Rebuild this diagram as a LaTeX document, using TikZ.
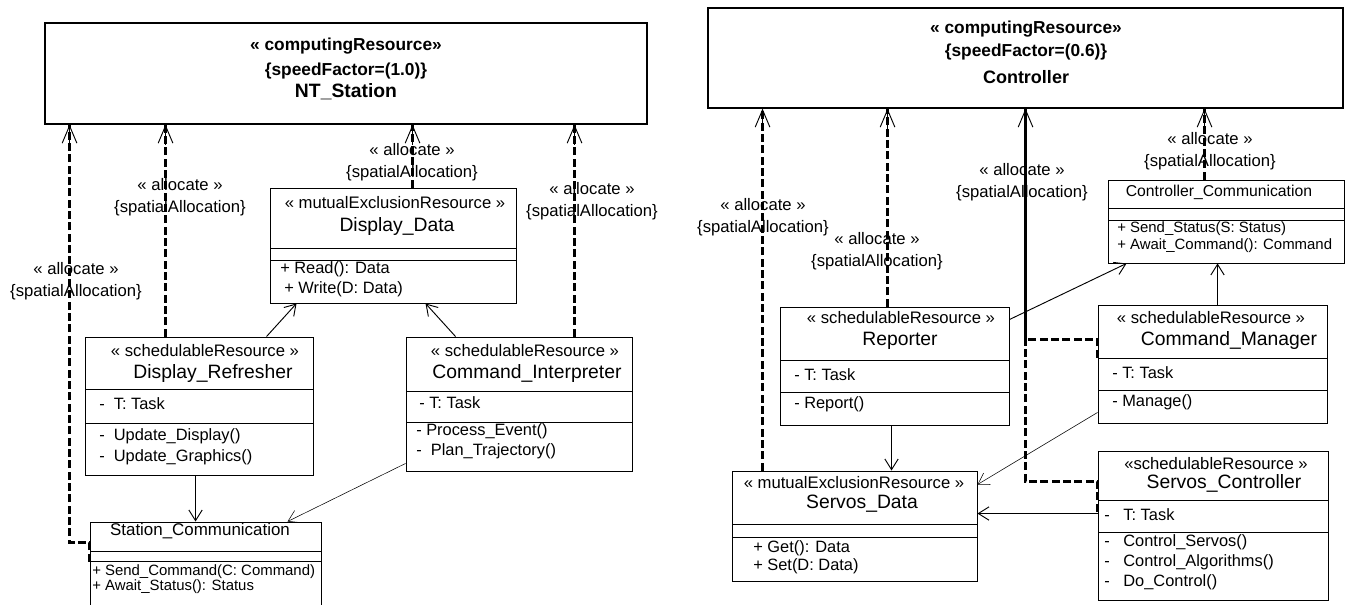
\documentclass[tikz,border=0pt]{standalone}
\usepackage{fontspec}
\setmainfont{Liberation Sans}
\usetikzlibrary{arrows.meta, calc, fit}

\tikzset{
  res/.style={draw, line width=0.9pt, inner sep=0pt},
  cls/.style={draw, line width=0.7pt, inner sep=0pt},
  sep/.style={line width=0.7pt},
  restxt/.style={font=\fontsize{13}{15}\selectfont\bfseries, inner sep=0pt, anchor=mid},
  resname/.style={font=\fontsize{14.5}{17}\selectfont\bfseries, inner sep=0pt, anchor=mid},
  stereo/.style={font=\fontsize{12.5}{15}\selectfont, inner sep=0pt, anchor=mid},
  cname/.style={font=\fontsize{14.5}{17}\selectfont, inner sep=0pt, anchor=mid},
  ctitle/.style={font=\fontsize{12.7}{14}\selectfont, inner sep=0pt, anchor=mid},
  member/.style={font=\fontsize{12.3}{14}\selectfont, inner sep=0pt, anchor=mid west},
  smember/.style={font=\fontsize{11.2}{13}\selectfont, inner sep=0pt, anchor=mid west},
  albl/.style={font=\fontsize{12.5}{16.2}\selectfont, align=center, inner sep=0pt},
  alloc/.style={line width=2.2pt, dash pattern=on 6pt off 2.5pt},
  alloctip/.style={line width=0.7pt, -{Straight Barb[length=13pt,width=11pt]}},
  dep/.style={line width=0.7pt, -{Straight Barb[length=8pt,width=10pt]}},
  thindep/.style={line width=0.4pt, -{Straight Barb[length=8pt,width=10pt]}},
}

\begin{document}
\begin{tikzpicture}[x=0.75pt, y=-0.75pt]

\useasboundingbox (0,0) rectangle (1354,605);
\clip (0,0) rectangle (1354,605);
\fill[white] (0,0) rectangle (1354,605);

% ---- left: NT_Station
\node[res, fit={(45,23) (647,124)}] (ntst) {};
\node[restxt] (ntst-st) at (346,47) {« computingResource»};
\node[restxt] (ntst-sf) at (346,72) {\{speedFactor=(1.0)\}};
\node[resname] (ntst-nm) at (346,94) {NT\_Station};

% Display_Data
\node[cls, fit={(270,188) (516,303)}] (ddata) {};
\node[stereo] (ddata-st) at (395,205) {« mutualExclusionResource »};
\node[cname] (ddata-nm) at (397,228) {Display\_Data};
\foreach \y in {248,260} \draw[sep] (270,\y) -- (516,\y);
\node[member] (ddata-m1) at (280,270) {+ Read(): Data};
\node[member] (ddata-m2) at (284,290) {+ Write(D: Data)};

% Display_Refresher
\node[cls, fit={(85,337) (313,475)}] (dref) {};
\node[stereo] (dref-st) at (205,353) {« schedulableResource »};
\node[cname] (dref-nm) at (213,375) {Display\_Refresher};
\foreach \y in {389,423} \draw[sep] (85,\y) -- (313,\y);
\node[member] (dref-a1) at (99,406) {-\ \ T: Task};
\node[member] (dref-m1) at (99,437) {-\ \ Update\_Display()};
\node[member] (dref-m2) at (99,458) {-\ \ Update\_Graphics()};

% Command_Interpreter
\node[cls, fit={(406,337) (632,471)}] (cint) {};
\node[stereo] (cint-st) at (525,353) {« schedulableResource »};
\node[cname] (cint-nm) at (527,375) {Command\_Interpreter};
\foreach \y in {391,422} \draw[sep] (406,\y) -- (632,\y);
\node[member] (cint-a1) at (419,405) {- T: Task};
\node[member] (cint-m1) at (416,432) {- Process\_Event()};
\node[member] (cint-m2) at (416,452) {-\ \ Plan\_Trajectory()};

% Station_Communication (runs off the bottom)
\node[cls, fit={(90,522) (321,640)}] (scom) {};
\node[ctitle] (scom-nm) at (200,532) {Station\_Communication};
\foreach \y in {551,561} \draw[sep] (90,\y) -- (321,\y);
\node[smember] (scom-m1) at (92,572) {+ Send\_Command(C: Command)};
\node[smember] (scom-m2) at (92,587) {+ Await\_Status(): Status};

% allocations, left
\draw[alloc] ($(scom.north west)+(0,40)$) -- ++(0,-19) -- ++(-20,0) coordinate (k1) -- (k1 |- ntst.south) coordinate (t1);
\draw[alloc] ($(dref.north west)+(81,0)$) coordinate (s2) -- (s2 |- ntst.south) coordinate (t2);
\draw[alloc] ($(ddata.north west)+(143,0)$) coordinate (s3) -- (s3 |- ntst.south) coordinate (t3);
\draw[alloc] ($(cint.north west)+(169,0)$) coordinate (s4) -- (s4 |- ntst.south) coordinate (t4);
\foreach \t in {t1,t2,t3,t4}
  \draw[alloctip] ($(\t)+(0,20)$) -- (\t);

\node[albl] (al1) at (76,281) {« allocate »\\\{spatialAllocation\}};
\node[albl] (al2) at (180,197) {« allocate »\\\{spatialAllocation\}};
\node[albl] (al3) at (412,162) {« allocate »\\\{spatialAllocation\}};
\node[albl] (al4) at (592,201) {« allocate »\\\{spatialAllocation\}};

% uses, left
\draw[dep] ($(dref.north west)+(182,0)$) -- ($(ddata.south west)+(27,0)$);
\draw[dep] ($(cint.north west)+(50,0)$) -- ($(ddata.south west)+(156,0)$);
\draw[dep] ($(dref.south west)+(111,0)$) -- ($(scom.north west)+(106,0)$);
\draw[thindep] ($(cint.south west)+(0,-8)$) -- ($(scom.north west)+(198,0)$);

% ---- right: Controller
\node[res, fit={(708,8) (1343,108)}] (ctrl) {};
\node[restxt] (ctrl-st) at (1026,30) {« computingResource»};
\node[restxt] (ctrl-sf) at (1026,53) {\{speedFactor=(0.6)\}};
\node[resname, font=\fontsize{13.5}{16}\selectfont\bfseries] (ctrl-nm) at (1026,80) {Controller};

% Controller_Communication
\node[cls, fit={(1108,180) (1344,263)}] (ccom) {};
\node[ctitle, font=\fontsize{11.8}{14}\selectfont] (ccom-nm) at (1219,193) {Controller\_Communication};
\foreach \y in {208,220} \draw[sep] (1108,\y) -- (1344,\y);
\node[smember] (ccom-m1) at (1117,229) {+ Send\_Status(S: Status)};
\node[smember] (ccom-m2) at (1117,246) {+ Await\_Command(): Command};

% Reporter
\node[cls, fit={(780,307) (1009,425)}] (rep) {};
\node[stereo] (rep-st) at (901,320) {« schedulableResource »};
\node[cname] (rep-nm) at (900,342) {Reporter};
\foreach \y in {360,392} \draw[sep] (780,\y) -- (1009,\y);
\node[member] (rep-a1) at (794,377) {- T: Task};
\node[member] (rep-m1) at (794,405) {- Report()};

% Command_Manager
\node[cls, fit={(1098,305) (1327,423)}] (cman) {};
\node[stereo] (cman-st) at (1211,320) {« schedulableResource »};
\node[cname] (cman-nm) at (1229,342) {Command\_Manager};
\foreach \y in {358,390} \draw[sep] (1098,\y) -- (1327,\y);
\node[member] (cman-a1) at (1112,375) {- T: Task};
\node[member] (cman-m1) at (1112,403) {- Manage()};

% Servos_Data
\node[cls, fit={(732,471) (977,581)}] (sdata) {};
\node[stereo] (sdata-st) at (854,485) {« mutualExclusionResource »};
\node[cname] (sdata-nm) at (862,505) {Servos\_Data};
\foreach \y in {524,537} \draw[sep] (732,\y) -- (977,\y);
\node[member] (sdata-m1) at (753,549) {+ Get(): Data};
\node[member] (sdata-m2) at (753,567) {+ Set(D: Data)};

% Servos_Controller
\node[cls, fit={(1098,451) (1328,600)}] (sctl) {};
\node[stereo] (sctl-st) at (1216,466) {«schedulableResource »};
\node[cname] (sctl-nm) at (1224,485) {Servos\_Controller};
\foreach \y in {500,532} \draw[sep] (1098,\y) -- (1328,\y);
\node[member] (sctl-a1) at (1104,517) {-\ \ \ T: Task};
\node[member] (sctl-m1) at (1104,543) {-\ \ \ Control\_Servos()};
\node[member] (sctl-m2) at (1104,563) {-\ \ \ Control\_Algorithms()};
\node[member] (sctl-m3) at (1104,583) {-\ \ \ Do\_Control()};

% allocations, right
\draw[alloc] ($(sdata.north west)+(31,0)$) coordinate (s5) -- (s5 |- ctrl.south) coordinate (t5);
\draw[alloc] ($(rep.north west)+(108,0)$) coordinate (s6) -- (s6 |- ctrl.south) coordinate (t6);
\draw[alloc] ($(cman.north west)+(0,53)$) -- ++(0,-18) -- ++(-72,0) coordinate (k7) -- (k7 |- ctrl.south) coordinate (t7);
\draw[alloc] ($(sctl.north west)+(0,61)$) -- ++(0,-30) -- ++(-72,0) coordinate (k8) -- (k8 |- ctrl.south);
\draw[alloc] ($(ccom.north west)+(97,0)$) coordinate (s9) -- (s9 |- ctrl.south) coordinate (t9);
\foreach \t in {t5,t6,t7,t9}
  \draw[alloctip] ($(\t)+(0,20)$) -- (\t);

\node[albl] (al5) at (763,217) {« allocate »\\\{spatialAllocation\}};
\node[albl] (al6) at (877,251) {« allocate »\\\{spatialAllocation\}};
\node[albl] (al7) at (1022,182) {« allocate »\\\{spatialAllocation\}};
\node[albl] (al9) at (1210,151) {« allocate »\\\{spatialAllocation\}};

% uses, right
\draw[dep] ($(rep.north east)+(0,13)$) -- ($(ccom.south west)+(19,0)$);
\draw[dep] ($(cman.north west)+(120,0)$) -- ($(ccom.south west)+(110,0)$);
\draw[dep] ($(rep.south west)+(112,0)$) -- ($(sdata.north west)+(160,0)$);
\draw[thindep] ($(cman.south west)+(0,-11)$) -- ($(sdata.north east)+(0,14)$);
\draw[dep] ($(sctl.north west)+(0,63)$) -- ($(sdata.north east)+(0,43)$);

\end{tikzpicture}
\end{document}
